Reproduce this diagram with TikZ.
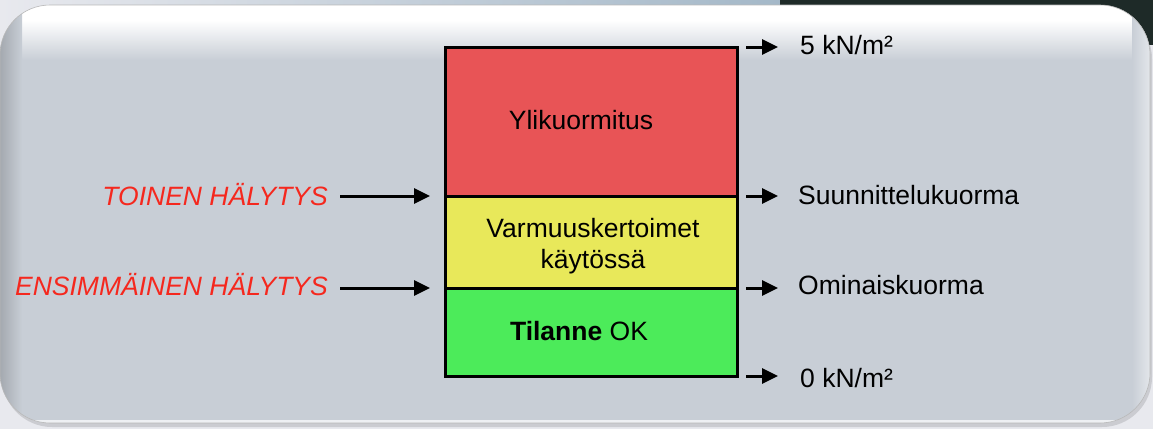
\documentclass[tikz,border=0pt]{standalone}
\usepackage{fontspec}
\setmainfont{Liberation Sans}
\usetikzlibrary{arrows.meta}
\definecolor{panel}{HTML}{C8CED6}
\definecolor{redfill}{HTML}{E85456}
\definecolor{yelfill}{HTML}{E8E85A}
\definecolor{grnfill}{HTML}{4CEB5A}
\definecolor{alarm}{HTML}{F5281E}
\definecolor{outside}{HTML}{E8E9EE}
\definecolor{stripblue}{HTML}{A4B8C8}
\definecolor{darkbg}{HTML}{1E2A28}
\begin{document}
\begin{tikzpicture}[x=1pt,y=-1pt,
  font=\fontsize{26.5}{30.5}\selectfont,
  band/.style={draw=black, line width=3pt, inner sep=0pt},
  arr/.style={line width=3pt, -{Triangle[length=16pt,width=15pt]}},
  lbl/.style={inner sep=0pt, anchor=west},
  alarmlbl/.style={inner sep=0pt, anchor=east, text=alarm, font=\fontsize{26.5}{30.5}\selectfont\itshape}]
\useasboundingbox (0,0) rectangle (1153,429);
% outside background
\fill[outside] (0,0) rectangle (1153,429);
\shade[left color=outside, right color=stripblue] (0,0) rectangle (780,40);
\fill[darkbg] (780,0) rectangle (1153,45);
% shadow
\fill[black, opacity=0.12] (2,9) [rounded corners=50pt] rectangle (1152,427);
% panel
\begin{scope}
  \clip[rounded corners=50pt] (0,5) rectangle (1150,423);
  \fill[panel] (0,5) rectangle (1150,423);
  \shade[top color=white, bottom color=panel] (0,20) rectangle (1150,60);
  \fill[white] (0,5) rectangle (1150,20);
  \shade[left color=black!18!panel, right color=panel] (0,5) rectangle (22,423);
  \shade[left color=panel, right color=white!50!panel] (1132,5) rectangle (1150,423);
  \fill[white!70!panel] (0,420) rectangle (1150,423);
\end{scope}
\draw[gray!55, line width=0.6pt, rounded corners=50pt] (0,5) rectangle (1150,423);
% bands
\node[band, fill=redfill, minimum width=292pt, minimum height=149pt] (over) at (591,121.5) {};
\node[band, fill=yelfill, minimum width=292pt, minimum height=92pt] (safe) at (591,242) {};
\node[band, fill=grnfill, minimum width=292pt, minimum height=88pt] (ok) at (591,332) {};
% band texts
\node[inner sep=0pt] (tover) at (581,120) {Ylikuormitus};
\node[inner sep=0pt, align=center] (tsafe) at (593,246) {Varmuuskertoimet\\käytössä};
\node[inner sep=0pt] (tok) at (579,331) {\textbf{Tilanne} OK};
% left alarms
\node[alarmlbl] (a2) at (328,195) {TOINEN HÄLYTYS};
\node[alarmlbl] (a1) at (328,285) {ENSIMMÄINEN HÄLYTYS};
\coordinate (a2s) at (340,196);
\coordinate (a2e) at (430,196);
\coordinate (a1s) at (340,288);
\coordinate (a1e) at (430,288);
\draw[arr] (a2s) -- (a2e);
\draw[arr] (a1s) -- (a1e);
% right levels
\coordinate (r5s) at (746,47);  \coordinate (r5e) at (778,47);
\coordinate (rds) at (746,196); \coordinate (rde) at (778,196);
\coordinate (rcs) at (746,288); \coordinate (rce) at (778,288);
\coordinate (r0s) at (746,376); \coordinate (r0e) at (778,376);
\draw[arr] (r5s) -- (r5e);
\draw[arr] (rds) -- (rde);
\draw[arr] (rcs) -- (rce);
\draw[arr] (r0s) -- (r0e);
\node[lbl] (l5) at (800,45) {5 kN/m²};
\node[lbl] (ld) at (798,195) {Suunnittelukuorma};
\node[lbl] (lc) at (798,285) {Ominaiskuorma};
\node[lbl] (l0) at (800,378) {0 kN/m²};
\end{tikzpicture}
\end{document}
